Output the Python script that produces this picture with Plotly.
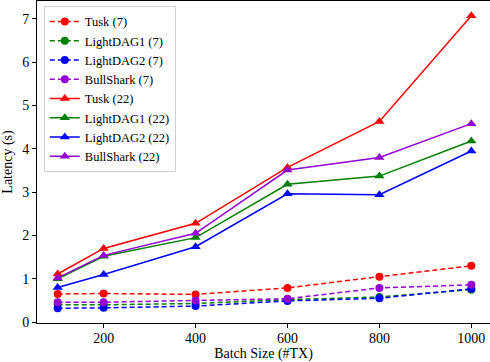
import plotly.graph_objects as go

batch = [100, 200, 400, 600, 800, 1000]

tusk7 = [0.65, 0.66, 0.64, 0.79, 1.05, 1.30]
lightdag1_7 = [0.40, 0.40, 0.43, 0.52, 0.58, 0.75]
lightdag2_7 = [0.32, 0.33, 0.37, 0.49, 0.55, 0.77]
bullshark7 = [0.46, 0.46, 0.50, 0.54, 0.79, 0.86]

tusk22 = [1.11, 1.70, 2.28, 3.57, 4.63, 7.07]
lightdag1_22 = [1.00, 1.52, 1.95, 3.18, 3.37, 4.18]
lightdag2_22 = [0.80, 1.10, 1.74, 2.96, 2.94, 3.95]
bullshark22 = [1.02, 1.54, 2.05, 3.51, 3.80, 4.58]

names7 = ["Tusk (7)", "LightDAG1 (7)", "LightDAG2 (7)", "BullShark (7)"]
names22 = ["Tusk (22)", "LightDAG1 (22)", "LightDAG2 (22)", "BullShark (22)"]
colors = ["#ff0000", "#008000", "#0000ff", "#9400d3"]

FONT = "Liberation Serif, Times New Roman, serif"

fig = go.Figure()
for name, ys, c in zip(names7, [tusk7, lightdag1_7, lightdag2_7, bullshark7], colors):
    fig.add_trace(go.Scatter(x=batch, y=ys, name=name, mode="lines+markers",
                             line=dict(color=c, width=1.5, dash="5px,3px"),
                             marker=dict(symbol="circle", size=8, color=c)))
for name, ys, c in zip(names22, [tusk22, lightdag1_22, lightdag2_22, bullshark22], colors):
    fig.add_trace(go.Scatter(x=batch, y=ys, name=name, mode="lines+markers",
                             line=dict(color=c, width=1.5),
                             marker=dict(symbol="triangle-up", size=9, color=c)))

fig.update_layout(
    width=490, height=362,
    margin=dict(l=37, r=0, t=1, b=39),
    paper_bgcolor="white", plot_bgcolor="white",
    font=dict(family=FONT, size=14, color="black"),
    showlegend=True,
    legend=dict(x=0.015, y=0.985, xanchor="left", yanchor="top",
                bgcolor="rgba(255,255,255,0.8)", bordercolor="#d0d0d0", borderwidth=1,
                font=dict(family=FONT, size=12.5, color="black"), tracegroupgap=0, itemwidth=30),
    xaxis=dict(title=dict(text="Batch Size (#TX)", standoff=2, font=dict(size=14)),
               range=[55, 1040.6], tickvals=[200, 400, 600, 800, 1000],
               showline=True, linecolor="black", linewidth=1, mirror=True,
               ticks="outside", ticklen=4, tickcolor="black", ticklabelstandoff=-2,
               showgrid=False, zeroline=False),
    yaxis=dict(title=dict(text="Latency (s)", standoff=6, font=dict(size=14)),
               range=[-0.02, 7.41], tickvals=[0, 1, 2, 3, 4, 5, 6, 7],
               showline=True, linecolor="black", linewidth=1, mirror=True,
               ticks="outside", ticklen=4, tickcolor="black", showgrid=False, zeroline=False),
)

fig.write_html("out.html")
